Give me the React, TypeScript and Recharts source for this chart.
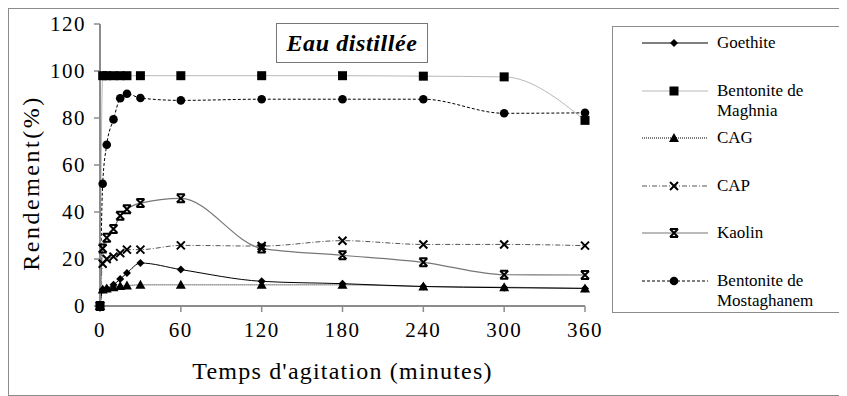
import { LineChart, Line, XAxis, YAxis, Legend } from "recharts";

const times = [0, 2, 5, 10, 15, 20, 30, 60, 120, 180, 240, 300, 360];
const goethite = [0, 7, 7.5, 9, 11.5, 14, 18.3, 15.5, 10.5, 9.5, 8.3, 7.8, 7.5];
const maghnia = [0, 98, 98, 98, 98, 98, 98, 98, 98, 98, 97.8, 97.5, 79];
const cag = [0, 7, 7.5, 8, 8.5, 8.7, 9, 9, 9, 9, 8.3, 8, 7.5];
const cap = [0, 18, 20, 21, 22.5, 24, 24, 25.8, 25.5, 27.8, 26.2, 26.2, 25.7];
const kaolin = [0, 24.5, 29, 32.8, 38.4, 41.2, 43.8, 45.8, 24.5, 21.6, 18.6, 13.3, 13.2];
const mostaghanem = [0, 52, 68.6, 79.4, 88.4, 90.3, 88.5, 87.5, 88, 88, 88, 82, 82.2];

const xTicks = [0, 60, 120, 180, 240, 300, 360];
const yTicks = [0, 20, 40, 60, 80, 100, 120];

const data = times.map((t, i) => ({
  t,
  goethite: goethite[i],
  maghnia: maghnia[i],
  cag: cag[i],
  cap: cap[i],
  kaolin: kaolin[i],
  mostaghanem: mostaghanem[i],
}));

const FONT = '"Liberation Serif", Tinos, "Times New Roman", Times, "DejaVu Serif", serif';

type Shape = (x: number, y: number) => JSX.Element;

const diamond: Shape = (x, y) => (
  <path d={`M${x},${y - 4}L${x + 4},${y}L${x},${y + 4}L${x - 4},${y}Z`} fill="#000" />
);
const square: Shape = (x, y) => <rect x={x - 4.5} y={y - 4.5} width={9} height={9} fill="#000" />;
const triangle: Shape = (x, y) => (
  <path d={`M${x},${y - 5}L${x + 5},${y + 4}L${x - 5},${y + 4}Z`} fill="#000" />
);
const cross: Shape = (x, y) => (
  <path d={`M${x - 4},${y - 4}L${x + 4},${y + 4}M${x + 4},${y - 4}L${x - 4},${y + 4}`} stroke="#000" strokeWidth={2} fill="none" />
);
const star: Shape = (x, y) => (
  <path
    d={`M${x - 4},${y - 4}L${x + 4},${y + 4}M${x + 4},${y - 4}L${x - 4},${y + 4}M${x - 4},${y - 4}L${x + 4},${y - 4}M${x - 4},${y + 4}L${x + 4},${y + 4}`}
    stroke="#000"
    strokeWidth={2}
    fill="none"
  />
);
const circle: Shape = (x, y) => <circle cx={x} cy={y} r={4.3} fill="#000" />;

const series = [
  { key: "goethite", name: "Goethite", stroke: "#000", width: 1, dash: undefined, shape: diamond, top: 16 },
  { key: "maghnia", name: "Bentonite de Maghnia", stroke: "#b8b8b8", width: 1, dash: undefined, shape: square, top: 64 },
  { key: "cag", name: "CAG", stroke: "#000", width: 1, dash: "1 1", shape: triangle, top: 111 },
  { key: "cap", name: "CAP", stroke: "#555", width: 1, dash: "5 2 1 2", shape: cross, top: 159 },
  { key: "kaolin", name: "Kaolin", stroke: "#777", width: 1.2, dash: undefined, shape: star, top: 206 },
  { key: "mostaghanem", name: "Bentonite de Mostaghanem", stroke: "#000", width: 1, dash: "3 2", shape: circle, top: 254 },
];

function LegendBox() {
  return (
    <div
      style={{
        position: "relative",
        width: 232,
        height: 287,
        boxSizing: "border-box",
        border: "1px solid #8c8c8c",
        background: "#fff",
        fontFamily: FONT,
        fontSize: 17,
        color: "#000",
      }}
    >
      {series.map((s) => (
        <div key={s.key} style={{ position: "absolute", left: 0, top: s.top - 10, display: "flex" }}>
          <svg width={104} height={20} style={{ flex: "none" }}>
            <line x1={29} y1={10} x2={95} y2={10} stroke={s.stroke} strokeWidth={s.width} strokeDasharray={s.dash} />
            {s.shape(61, 10)}
          </svg>
          <div style={{ width: 118, lineHeight: "20px" }}>{s.name}</div>
        </div>
      ))}
    </div>
  );
}

const tickStyle = { fill: "#000", fontSize: 21, fontFamily: FONT, style: { letterSpacing: "1.5px" } };

export default function App() {
  return (
    <div
      style={{
        position: "relative",
        width: 838,
        height: 386,
        border: "1px solid #8c8c8c",
        fontFamily: FONT,
        background: "#fff",
      }}
    >
      <LineChart width={838} height={386} data={data} margin={{ top: 15, right: 262, bottom: 39, left: 31 }} style={{ fontFamily: FONT }}>
        <XAxis
          dataKey="t"
          type="number"
          domain={[0, 360]}
          ticks={xTicks}
          height={50}
          axisLine={{ stroke: "#8c8c8c", strokeWidth: 2 }}
          tickLine={{ stroke: "#8c8c8c", strokeWidth: 1.5 }}
          tickSize={6}
          tickMargin={10}
          tick={tickStyle}
          label={{
            value: "Temps d'agitation (minutes)",
            position: "bottom",
            offset: 6,
            style: { fill: "#000", fontSize: 24, fontFamily: FONT, letterSpacing: "1.2px" },
          }}
        />
        <YAxis
          type="number"
          domain={[0, 120]}
          ticks={yTicks}
          width={60}
          axisLine={{ stroke: "#8c8c8c", strokeWidth: 2 }}
          tickLine={{ stroke: "#8c8c8c", strokeWidth: 1.5 }}
          tickSize={6}
          tickMargin={8}
          tick={tickStyle}
          label={{
            value: "Rendement(%)",
            angle: -90,
            position: "insideLeft",
            offset: -10,
            dy: 18,
            style: { fill: "#000", fontSize: 24, fontFamily: FONT, textAnchor: "middle", letterSpacing: "2.5px" },
          }}
        />
        {series.map((s) => (
          <Line
            key={s.key}
            dataKey={s.key}
            name={s.name}
            type="monotone"
            stroke={s.stroke}
            strokeWidth={s.width}
            strokeDasharray={s.dash}
            isAnimationActive={false}
            dot={(p: any) => <g key={`${s.key}-${p.index}`}>{s.shape(p.cx, p.cy)}</g>}
            activeDot={false}
          />
        ))}
        <Legend
          layout="vertical"
          align="center"
          verticalAlign="middle"
          content={() => <LegendBox />}
          wrapperStyle={{ position: "absolute", left: 603, top: 17, width: 232, height: 287 }}
        />
      </LineChart>
      <div
        style={{
          position: "absolute",
          left: 267,
          top: 14,
          width: 152,
          height: 40,
          boxSizing: "border-box",
          border: "1px solid #777",
          background: "#fff",
          display: "flex",
          alignItems: "center",
          justifyContent: "center",
          fontFamily: FONT,
          fontSize: 24,
          fontWeight: "bold",
          fontStyle: "italic",
          letterSpacing: 0.6,
        }}
      >
        Eau distillée
      </div>
    </div>
  );
}
